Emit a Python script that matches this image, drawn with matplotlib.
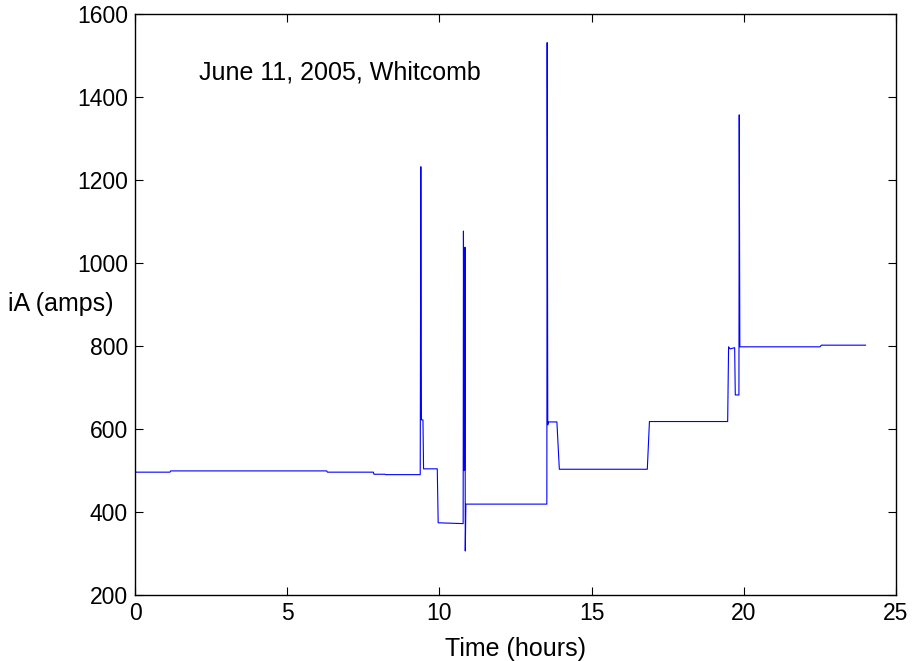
import numpy as np
import matplotlib
matplotlib.use('Agg')
import matplotlib.pyplot as plt

plt.rcParams['font.family'] = ['Liberation Sans', 'DejaVu Sans']

# phase A current breakpoints (time in hours, current in amps)
t_hours = [0.0, 1.15, 1.17, 6.30, 6.32, 7.83, 7.85, 8.21, 8.23, 9.37,
           9.39, 9.41, 9.46, 9.48, 9.93, 9.96, 10.78,
           10.79, 10.81, 10.83, 10.84, 10.85, 10.87, 13.53,
           13.54, 13.56, 13.58, 13.60, 13.86, 13.94, 16.83, 16.90,
           19.47, 19.50, 19.55, 19.70, 19.72, 19.84, 19.85, 19.87,
           22.50, 22.55, 24.0]
iA_amps = [496, 496, 499, 499, 496, 496, 491, 491, 490, 490,
           1232, 622, 622, 504, 504, 374, 372,
           1077, 500, 502, 1038, 306, 419, 419,
           1531, 610, 617, 617, 617, 503, 503, 618,
           618, 798, 793, 796, 682, 682, 1357, 798,
           798, 802, 802]

x_ticks = [0, 5, 10, 15, 20, 25]
y_ticks = [200, 400, 600, 800, 1000, 1200, 1400, 1600]

fig = plt.figure(figsize=(9.17, 6.61), dpi=100)
ax = fig.add_axes([135/917, 1 - 595/661, (896-135)/917, (595-14)/661])

ax.plot(t_hours, iA_amps, color='#0000ff', linewidth=0.8)

ax.set_xlim(0, 25)
ax.set_ylim(200, 1600)
ax.set_xticks(x_ticks)
ax.set_yticks(y_ticks)
ax.tick_params(direction='in', length=6, width=0.8, top=True, right=True,
               labelsize=16.5, pad=5)
for s in ax.spines.values():
    s.set_linewidth(1.0)

ax.set_xlabel('Time (hours)', fontsize=18, labelpad=9)
ax.set_ylabel('iA (amps)', fontsize=18, rotation=0, ha='center', va='center')
ax.yaxis.set_label_coords(-0.097, 0.5)

ax.text(2.1, 1460, 'June 11, 2005, Whitcomb', fontsize=18, ha='left', va='center')

fig.savefig('out.png', dpi=100)
